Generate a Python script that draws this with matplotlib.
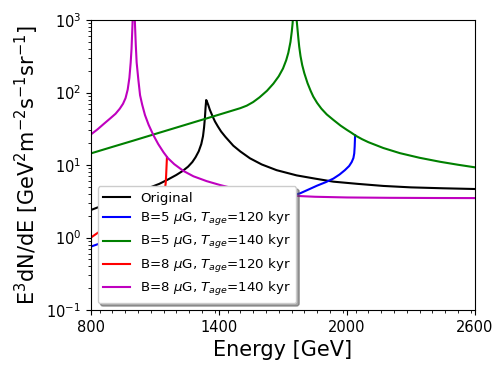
import matplotlib
matplotlib.use('Agg')
import matplotlib.pyplot as plt
from matplotlib.ticker import MultipleLocator

# Original spectrum
e_orig = [800, 900, 1000, 1040, 1080, 1120, 1160, 1200, 1230, 1255, 1275, 1290, 1305,
          1317, 1325, 1330, 1334, 1337, 1340, 1343, 1350, 1357, 1370, 1381, 1395, 1410,
          1430, 1467, 1500, 1545, 1600, 1670, 1764, 1850, 1936, 2050, 2170, 2300, 2450, 2600]
f_orig = [2.4, 3.1, 3.9, 4.4, 4.95, 5.5, 6.3, 7.3, 8.3, 9.5, 11, 12.8, 15.5,
          19.5, 25, 33, 45, 62, 79, 76, 67, 58, 47, 40, 34, 29,
          24.5, 18.5, 15.4, 12.4, 10.2, 8.5, 7.2, 6.5, 5.9, 5.5, 5.15, 4.92, 4.78, 4.67]

# B=5 uG, T=120 kyr
e_b5_120 = [800, 900, 1000, 1100, 1200, 1300, 1400, 1500, 1600, 1700, 1780, 1820,
            1860, 1900, 1936, 1965, 1990, 2010, 2022, 2030, 2034, 2036, 2038]
f_b5_120 = [0.75, 0.95, 1.15, 1.4, 1.65, 1.95, 2.3, 2.65, 3.05, 3.5, 4.07, 4.6,
            5.2, 5.8, 6.5, 7.4, 8.5, 9.7, 11, 12.5, 14.5, 18, 25.8]

# B=5 uG, T=140 kyr
e_b5_140 = [800, 900, 1000, 1100, 1200, 1300, 1400, 1450, 1500, 1530, 1560, 1590, 1625,
            1655, 1680, 1700, 1715, 1725, 1735, 1741, 1745, 1750, 1755, 1760, 1764, 1768,
            1772, 1776, 1782, 1790, 1800, 1815, 1830, 1842, 1860, 1880, 1905, 1936,
            1970, 2000, 2020, 2040, 2070, 2100, 2170, 2248, 2340, 2436, 2520, 2600]
f_b5_140 = [14.5, 17.8, 21.8, 26.8, 32.9, 40.4, 49.6, 55, 61, 66, 74, 86, 106,
            133, 168, 215, 280, 355, 500, 690, 900, 1600, 3000, 1500, 1000, 750,
            560, 430, 320, 240, 185, 135, 105, 88, 72, 60, 50, 42,
            35, 30.5, 28, 25.5, 22.8, 20.7, 17.2, 14.6, 12.6, 11.1, 10.1, 9.3]

# B=8 uG, T=120 kyr
e_b8_120 = [800, 900, 1000, 1080, 1120, 1140, 1147, 1150, 1152, 1154, 1156]
f_b8_120 = [1.0, 1.6, 2.3, 3.2, 4.0, 4.4, 4.8, 5.6, 7, 9.5, 12.8]

# B=8 uG, T=140 kyr
e_b8_140 = [800, 830, 860, 890, 915, 935, 950, 962, 972, 980, 986, 990, 994, 997, 1000,
            1003, 1006, 1010, 1014, 1022, 1030, 1040, 1053, 1070, 1092, 1115, 1140,
            1160, 1190, 1233, 1280, 1342, 1405, 1470, 1540, 1620, 1720, 1850, 2000,
            2200, 2400, 2600]
f_b8_140 = [26.5, 31, 37, 44, 51, 60, 70, 84, 110, 160, 260, 400, 800, 1500, 3000,
            1500, 900, 450, 260, 150, 92, 68, 49, 36, 26, 19.5, 15,
            12.5, 10.3, 8.3, 7.0, 6.0, 5.3, 4.75, 4.35, 4.0, 3.8, 3.65, 3.57,
            3.53, 3.51, 3.5]

fig = plt.figure(figsize=(5, 3.73), dpi=100)
ax = fig.add_axes([0.182, 0.169, 0.768, 0.777])

ax.plot(e_orig, f_orig, color='k', lw=1.5, label='Original')
ax.plot(e_b5_120, f_b5_120, color='b', lw=1.5, label=r'B=5 $\mu$G, $T_{age}$=120 kyr')
ax.plot(e_b5_140, f_b5_140, color='g', lw=1.5, label=r'B=5 $\mu$G, $T_{age}$=140 kyr')
ax.plot(e_b8_120, f_b8_120, color='r', lw=1.5, label=r'B=8 $\mu$G, $T_{age}$=120 kyr')
ax.plot(e_b8_140, f_b8_140, color='m', lw=1.5, label=r'B=8 $\mu$G, $T_{age}$=140 kyr')

ax.set_yscale('log')
ax.set_xlim(800, 2600)
ax.set_ylim(0.1, 1000)
ax.set_xticks([800, 1400, 2000, 2600])
ax.xaxis.set_minor_locator(MultipleLocator(60))
ax.tick_params(labelsize=10.5)

ax.set_xlabel('Energy [GeV]', fontsize=15)
ax.set_ylabel(r'E$^3$dN/dE [GeV$^2$m$^{-2}$s$^{-1}$sr$^{-1}$]', fontsize=15)

ax.legend(loc='lower left', fontsize=9.6, labelspacing=0.4, shadow=True)

fig.savefig('out.png', dpi=100)
